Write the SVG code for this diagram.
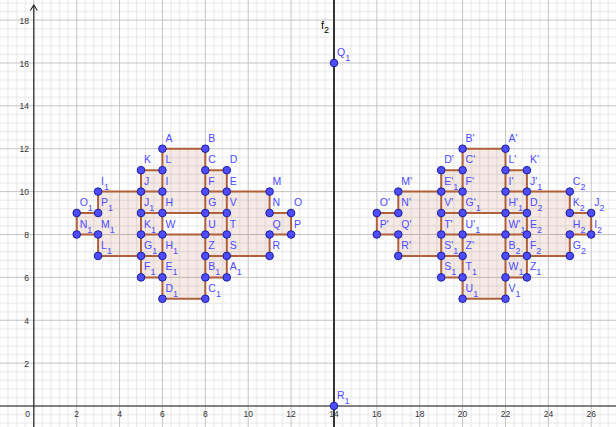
<svg xmlns="http://www.w3.org/2000/svg" width="616" height="427" viewBox="0 0 616 427">
<style>
.ax{font-family:"Liberation Sans",Arial,sans-serif;font-size:8.5px;fill:#333}
.pt circle{fill:#4d4dff;stroke:#1f1f99;stroke-width:1}
.pt text{font-family:"Liberation Sans",Arial,sans-serif;font-size:10.5px;fill:#4d4dff}
.s{font-size:9px}
.fill{fill:#993300;fill-opacity:0.1;fill-rule:evenodd;stroke:none}
.seg{fill:none;stroke:#b0603a;stroke-width:2;stroke-linejoin:round;stroke-linecap:round}
</style>
<defs>
<pattern id="grid" patternUnits="userSpaceOnUse" x="33.3" y="405.5" width="42.88" height="42.88">
<g fill="#e6e6e6">
<rect x="8.576" y="0" width="1" height="42.88"/><rect x="17.152" y="0" width="1" height="42.88"/><rect x="25.728" y="0" width="1" height="42.88"/><rect x="34.304" y="0" width="1" height="42.88"/>
<rect x="0" y="8.576" width="42.88" height="1"/><rect x="0" y="17.152" width="42.88" height="1"/><rect x="0" y="25.728" width="42.88" height="1"/><rect x="0" y="34.304" width="42.88" height="1"/>
</g>
<g fill="#c4c4c4">
<rect x="0" y="0" width="1" height="42.88"/><rect x="0" y="0" width="42.88" height="1"/>
</g>
</pattern>
</defs>
<rect width="616" height="427" fill="#ffffff"/>
<rect width="616" height="427" fill="url(#grid)"/>
<g id="axes">
<line x1="0" y1="406" x2="616" y2="406" stroke="#252525" stroke-width="1.2"/>
<line x1="33.8" y1="427" x2="33.8" y2="5" stroke="#252525" stroke-width="1.2"/>
<path d="M30.3,10.5 L33.8,5 L37.3,10.5" fill="none" stroke="#252525" stroke-width="1.2"/>
<g class="ax" text-anchor="middle">
<text x="76.7" y="417">2</text><text x="119.6" y="417">4</text><text x="162.4" y="417">6</text><text x="205.3" y="417">8</text><text x="248.2" y="417">10</text><text x="291.1" y="417">12</text><text x="334" y="417">14</text><text x="376.8" y="417">16</text><text x="419.7" y="417">18</text><text x="462.6" y="417">20</text><text x="505.5" y="417">22</text><text x="548.4" y="417">24</text><text x="591.2" y="417">26</text>
</g>
<g class="ax" text-anchor="end">
<text x="30" y="417">0</text>
<text x="29" y="366.6">2</text><text x="29" y="323.7">4</text><text x="29" y="280.9">6</text><text x="29" y="238">8</text><text x="29" y="195.1">10</text><text x="29" y="152.2">12</text><text x="29" y="109.3">14</text><text x="29" y="66.5">16</text><text x="29" y="23.6">18</text>
</g>
</g>
<g id="f2">
<line x1="334" y1="0" x2="334" y2="427" stroke="#333" stroke-width="2"/>
<text x="321" y="29" font-family="Liberation Sans,Arial,sans-serif" font-size="11" fill="#000">f<tspan font-size="9" dy="4">2</tspan></text>
</g>
<g id="fills">
<path class="fill" d="M162.4,148.7 H205.3 V170.2 H226.8 V191.6 H269.6 V213 H291.1 V234.5 H269.6 V255.9 H226.8 V277.4 H205.3 V298.8 H162.4 V277.4 H141 V255.9 H98.1 V234.5 H76.7 V213 H98.1 V191.6 H141 V170.2 H162.4 Z M162.4,213 H205.3 V234.5 H162.4 Z"/>
<path class="fill" d="M505.5,148.7 H462.6 V170.2 H441.2 V191.6 H398.3 V213 H376.8 V234.5 H398.3 V255.9 H441.2 V277.4 H462.6 V298.8 H505.5 V277.4 H526.9 V255.9 H569.8 V234.5 H591.2 V213 H569.8 V191.6 H526.9 V170.2 H505.5 Z M462.6,213 H505.5 V234.5 H462.6 Z"/>
</g>
<g id="connectors" class="seg">
<path d="M162.4,148.7 H205.3 V170.2 H226.8 V191.6 H269.6 V213 H291.1 V234.5 H269.6 V255.9 H226.8 V277.4 H205.3 V298.8 H162.4 V277.4 H141 V255.9 H98.1 V234.5 H76.7 V213 H98.1 V191.6 H141 V170.2 H162.4 Z"/>
<path d="M162.4,170.2 V277.4 M205.3,170.2 V277.4 M141,191.6 V255.9 M226.8,191.6 V255.9 M141,191.6 H162.4 M205.3,191.6 H226.8 M141,213 H226.8 M141,234.5 H226.8 M141,255.9 H162.4 M205.3,255.9 H226.8"/>
<path d="M505.5,148.7 H462.6 V170.2 H441.2 V191.6 H398.3 V213 H376.8 V234.5 H398.3 V255.9 H441.2 V277.4 H462.6 V298.8 H505.5 V277.4 H526.9 V255.9 H569.8 V234.5 H591.2 V213 H569.8 V191.6 H526.9 V170.2 H505.5 Z"/>
<path d="M505.5,170.2 V277.4 M462.6,170.2 V277.4 M526.9,191.6 V255.9 M441.2,191.6 V255.9 M526.9,191.6 H505.5 M462.6,191.6 H441.2 M526.9,213 H441.2 M526.9,234.5 H441.2 M526.9,255.9 H505.5 M462.6,255.9 H441.2"/>
</g>
<g id="points" class="pt">
<g id="pA"><circle cx="162.4" cy="148.7" r="3.8"/><text x="165.4" y="141.7">A</text></g>
<g id="pB"><circle cx="205.3" cy="148.7" r="3.8"/><text x="208.3" y="141.7">B</text></g>
<g id="pC"><circle cx="205.3" cy="170.2" r="3.8"/><text x="208.3" y="163.2">C</text></g>
<g id="pD"><circle cx="226.8" cy="170.2" r="3.8"/><text x="229.8" y="163.2">D</text></g>
<g id="pE"><circle cx="226.8" cy="191.6" r="3.8"/><text x="229.8" y="184.6">E</text></g>
<g id="pF"><circle cx="205.3" cy="191.6" r="3.8"/><text x="208.3" y="184.6">F</text></g>
<g id="pG"><circle cx="205.3" cy="213" r="3.8"/><text x="208.3" y="206">G</text></g>
<g id="pH"><circle cx="162.4" cy="213" r="3.8"/><text x="165.4" y="206">H</text></g>
<g id="pI"><circle cx="162.4" cy="191.6" r="3.8"/><text x="165.4" y="184.6">I</text></g>
<g id="pJ"><circle cx="141" cy="191.6" r="3.8"/><text x="144" y="184.6">J</text></g>
<g id="pK"><circle cx="141" cy="170.2" r="3.8"/><text x="144" y="163.2">K</text></g>
<g id="pL"><circle cx="162.4" cy="170.2" r="3.8"/><text x="165.4" y="163.2">L</text></g>
<g id="pM"><circle cx="269.6" cy="191.6" r="3.8"/><text x="272.6" y="184.6">M</text></g>
<g id="pN"><circle cx="269.6" cy="213" r="3.8"/><text x="272.6" y="206">N</text></g>
<g id="pO"><circle cx="291.1" cy="213" r="3.8"/><text x="294.1" y="206">O</text></g>
<g id="pP"><circle cx="291.1" cy="234.5" r="3.8"/><text x="294.1" y="227.5">P</text></g>
<g id="pQ"><circle cx="269.6" cy="234.5" r="3.8"/><text x="272.6" y="227.5">Q</text></g>
<g id="pR"><circle cx="269.6" cy="255.9" r="3.8"/><text x="272.6" y="248.9">R</text></g>
<g id="pS"><circle cx="226.8" cy="255.9" r="3.8"/><text x="229.8" y="248.9">S</text></g>
<g id="pT"><circle cx="226.8" cy="234.5" r="3.8"/><text x="229.8" y="227.5">T</text></g>
<g id="pU"><circle cx="205.3" cy="234.5" r="3.8"/><text x="208.3" y="227.5">U</text></g>
<g id="pV"><circle cx="226.8" cy="213" r="3.8"/><text x="229.8" y="206">V</text></g>
<g id="pW"><circle cx="162.4" cy="234.5" r="3.8"/><text x="165.4" y="227.5">W</text></g>
<g id="pZ"><circle cx="205.3" cy="255.9" r="3.8"/><text x="208.3" y="248.9">Z</text></g>
<g id="pA1"><circle cx="226.8" cy="277.4" r="3.8"/><text x="229.8" y="270.4">A<tspan class="s" dy="5">1</tspan></text></g>
<g id="pB1"><circle cx="205.3" cy="277.4" r="3.8"/><text x="208.3" y="270.4">B<tspan class="s" dy="5">1</tspan></text></g>
<g id="pC1"><circle cx="205.3" cy="298.8" r="3.8"/><text x="208.3" y="291.8">C<tspan class="s" dy="5">1</tspan></text></g>
<g id="pD1"><circle cx="162.4" cy="298.8" r="3.8"/><text x="165.4" y="291.8">D<tspan class="s" dy="5">1</tspan></text></g>
<g id="pE1"><circle cx="162.4" cy="277.4" r="3.8"/><text x="165.4" y="270.4">E<tspan class="s" dy="5">1</tspan></text></g>
<g id="pF1"><circle cx="141" cy="277.4" r="3.8"/><text x="144" y="270.4">F<tspan class="s" dy="5">1</tspan></text></g>
<g id="pG1"><circle cx="141" cy="255.9" r="3.8"/><text x="144" y="248.9">G<tspan class="s" dy="5">1</tspan></text></g>
<g id="pH1"><circle cx="162.4" cy="255.9" r="3.8"/><text x="165.4" y="248.9">H<tspan class="s" dy="5">1</tspan></text></g>
<g id="pI1"><circle cx="98.1" cy="191.6" r="3.8"/><text x="101.1" y="184.6">I<tspan class="s" dy="5">1</tspan></text></g>
<g id="pJ1"><circle cx="141" cy="213" r="3.8"/><text x="144" y="206">J<tspan class="s" dy="5">1</tspan></text></g>
<g id="pK1"><circle cx="141" cy="234.5" r="3.8"/><text x="144" y="227.5">K<tspan class="s" dy="5">1</tspan></text></g>
<g id="pL1"><circle cx="98.1" cy="255.9" r="3.8"/><text x="101.1" y="248.9">L<tspan class="s" dy="5">1</tspan></text></g>
<g id="pM1"><circle cx="98.1" cy="234.5" r="3.8"/><text x="101.1" y="227.5">M<tspan class="s" dy="5">1</tspan></text></g>
<g id="pN1"><circle cx="76.7" cy="234.5" r="3.8"/><text x="79.7" y="227.5">N<tspan class="s" dy="5">1</tspan></text></g>
<g id="pO1"><circle cx="76.7" cy="213" r="3.8"/><text x="79.7" y="206">O<tspan class="s" dy="5">1</tspan></text></g>
<g id="pP1"><circle cx="98.1" cy="213" r="3.8"/><text x="101.1" y="206">P<tspan class="s" dy="5">1</tspan></text></g>
<g id="pA_"><circle cx="505.5" cy="148.7" r="3.8"/><text x="508.5" y="141.7">A'</text></g>
<g id="pB_"><circle cx="462.6" cy="148.7" r="3.8"/><text x="465.6" y="141.7">B'</text></g>
<g id="pC_"><circle cx="462.6" cy="170.2" r="3.8"/><text x="465.6" y="163.2">C'</text></g>
<g id="pD_"><circle cx="441.2" cy="170.2" r="3.8"/><text x="444.2" y="163.2">D'</text></g>
<g id="pE_1"><circle cx="441.2" cy="191.6" r="3.8"/><text x="444.2" y="184.6">E'<tspan class="s" dy="5">1</tspan></text></g>
<g id="pF_"><circle cx="462.6" cy="191.6" r="3.8"/><text x="465.6" y="184.6">F'</text></g>
<g id="pG_1"><circle cx="462.6" cy="213" r="3.8"/><text x="465.6" y="206">G'<tspan class="s" dy="5">1</tspan></text></g>
<g id="pH_1"><circle cx="505.5" cy="213" r="3.8"/><text x="508.5" y="206">H'<tspan class="s" dy="5">1</tspan></text></g>
<g id="pI_"><circle cx="505.5" cy="191.6" r="3.8"/><text x="508.5" y="184.6">I'</text></g>
<g id="pJ_1"><circle cx="526.9" cy="191.6" r="3.8"/><text x="529.9" y="184.6">J'<tspan class="s" dy="5">1</tspan></text></g>
<g id="pK_"><circle cx="526.9" cy="170.2" r="3.8"/><text x="529.9" y="163.2">K'</text></g>
<g id="pL_"><circle cx="505.5" cy="170.2" r="3.8"/><text x="508.5" y="163.2">L'</text></g>
<g id="pM_"><circle cx="398.3" cy="191.6" r="3.8"/><text x="401.3" y="184.6">M'</text></g>
<g id="pN_"><circle cx="398.3" cy="213" r="3.8"/><text x="401.3" y="206">N'</text></g>
<g id="pO_"><circle cx="376.8" cy="213" r="3.8"/><text x="379.8" y="206">O'</text></g>
<g id="pP_"><circle cx="376.8" cy="234.5" r="3.8"/><text x="379.8" y="227.5">P'</text></g>
<g id="pQ_"><circle cx="398.3" cy="234.5" r="3.8"/><text x="401.3" y="227.5">Q'</text></g>
<g id="pR_"><circle cx="398.3" cy="255.9" r="3.8"/><text x="401.3" y="248.9">R'</text></g>
<g id="pS_1"><circle cx="441.2" cy="255.9" r="3.8"/><text x="444.2" y="248.9">S'<tspan class="s" dy="5">1</tspan></text></g>
<g id="pT_"><circle cx="441.2" cy="234.5" r="3.8"/><text x="444.2" y="227.5">T'</text></g>
<g id="pU_1"><circle cx="462.6" cy="234.5" r="3.8"/><text x="465.6" y="227.5">U'<tspan class="s" dy="5">1</tspan></text></g>
<g id="pV_"><circle cx="441.2" cy="213" r="3.8"/><text x="444.2" y="206">V'</text></g>
<g id="pW_1"><circle cx="505.5" cy="234.5" r="3.8"/><text x="508.5" y="227.5">W'<tspan class="s" dy="5">1</tspan></text></g>
<g id="pZ_"><circle cx="462.6" cy="255.9" r="3.8"/><text x="465.6" y="248.9">Z'</text></g>
<g id="pS1"><circle cx="441.2" cy="277.4" r="3.8"/><text x="444.2" y="270.4">S<tspan class="s" dy="5">1</tspan></text></g>
<g id="pT1"><circle cx="462.6" cy="277.4" r="3.8"/><text x="465.6" y="270.4">T<tspan class="s" dy="5">1</tspan></text></g>
<g id="pU1"><circle cx="462.6" cy="298.8" r="3.8"/><text x="465.6" y="291.8">U<tspan class="s" dy="5">1</tspan></text></g>
<g id="pV1"><circle cx="505.5" cy="298.8" r="3.8"/><text x="508.5" y="291.8">V<tspan class="s" dy="5">1</tspan></text></g>
<g id="pW1"><circle cx="505.5" cy="277.4" r="3.8"/><text x="508.5" y="270.4">W<tspan class="s" dy="5">1</tspan></text></g>
<g id="pZ1"><circle cx="526.9" cy="277.4" r="3.8"/><text x="529.9" y="270.4">Z<tspan class="s" dy="5">1</tspan></text></g>
<g id="pF2"><circle cx="526.9" cy="255.9" r="3.8"/><text x="529.9" y="248.9">F<tspan class="s" dy="5">2</tspan></text></g>
<g id="pB2"><circle cx="505.5" cy="255.9" r="3.8"/><text x="508.5" y="248.9">B<tspan class="s" dy="5">2</tspan></text></g>
<g id="pC2"><circle cx="569.8" cy="191.6" r="3.8"/><text x="572.8" y="184.6">C<tspan class="s" dy="5">2</tspan></text></g>
<g id="pD2"><circle cx="526.9" cy="213" r="3.8"/><text x="529.9" y="206">D<tspan class="s" dy="5">2</tspan></text></g>
<g id="pE2"><circle cx="526.9" cy="234.5" r="3.8"/><text x="529.9" y="227.5">E<tspan class="s" dy="5">2</tspan></text></g>
<g id="pG2"><circle cx="569.8" cy="255.9" r="3.8"/><text x="572.8" y="248.9">G<tspan class="s" dy="5">2</tspan></text></g>
<g id="pH2"><circle cx="569.8" cy="234.5" r="3.8"/><text x="572.8" y="227.5">H<tspan class="s" dy="5">2</tspan></text></g>
<g id="pI2"><circle cx="591.2" cy="234.5" r="3.8"/><text x="594.2" y="227.5">I<tspan class="s" dy="5">2</tspan></text></g>
<g id="pJ2"><circle cx="591.2" cy="213" r="3.8"/><text x="594.2" y="206">J<tspan class="s" dy="5">2</tspan></text></g>
<g id="pK2"><circle cx="569.8" cy="213" r="3.8"/><text x="572.8" y="206">K<tspan class="s" dy="5">2</tspan></text></g>
<g id="pQ1"><circle cx="334" cy="63" r="3.8"/><text x="337" y="56">Q<tspan class="s" dy="5">1</tspan></text></g>
<g id="pR1"><circle cx="334" cy="406" r="3.8"/><text x="337" y="399">R<tspan class="s" dy="5">1</tspan></text></g>
</g>
</svg>
